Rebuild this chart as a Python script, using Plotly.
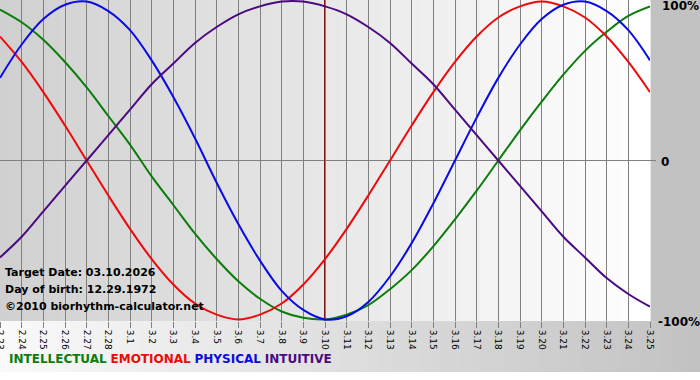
import plotly.graph_objects as go

# ---- data ----
dates = ["2.23", "2.24", "2.25", "2.26", "2.27", "2.28", "3.1", "3.2", "3.3", "3.4",
         "3.5", "3.6", "3.7", "3.8", "3.9", "3.10", "3.11", "3.12", "3.13", "3.14",
         "3.15", "3.16", "3.17", "3.18", "3.19", "3.20", "3.21", "3.22", "3.23", "3.24", "3.25"]

physical = [0.52, 0.73, 0.89, 0.98, 1.00, 0.94, 0.82, 0.63, 0.40, 0.14, -0.14, -0.40, -0.63,
            -0.82, -0.94, -1.00, -0.98, -0.89, -0.73, -0.52, -0.27, 0.00, 0.27, 0.52, 0.73,
            0.89, 0.98, 1.00, 0.94, 0.82, 0.63]
emotional = [0.78, 0.62, 0.43, 0.22, 0.00, -0.22, -0.43, -0.62, -0.78, -0.90, -0.97, -1.00,
             -0.97, -0.90, -0.78, -0.62, -0.43, -0.22, 0.00, 0.22, 0.43, 0.62, 0.78, 0.90,
             0.97, 1.00, 0.97, 0.90, 0.78, 0.62, 0.43]
intellectual = [0.95, 0.87, 0.76, 0.62, 0.46, 0.28, 0.10, -0.10, -0.28, -0.46, -0.62, -0.76,
                -0.87, -0.95, -0.99, -1.00, -0.97, -0.91, -0.81, -0.69, -0.54, -0.37, -0.19,
                0.00, 0.19, 0.37, 0.54, 0.69, 0.81, 0.91, 0.97]
intuitive = [-0.61, -0.48, -0.32, -0.16, 0.00, 0.16, 0.32, 0.48, 0.61, 0.74, 0.84, 0.92, 0.97,
             1.00, 1.00, 0.97, 0.92, 0.84, 0.74, 0.61, 0.48, 0.32, 0.16, 0.00, -0.16, -0.32,
             -0.48, -0.61, -0.74, -0.84, -0.92]

target_date = "3.10"
target_text = "Target Date: 03.10.2026"
birth_text = "Day of birth: 12.29.1972"
copy_text = "\u00a92010 biorhythm-calculator.net"
y_labels = ["100%", "0", "-100%"]
y_values = [1, 0, -1]

# ---- layout constants ----
W, H = 700, 380
ML, MR, MT, MB = 0, 50, 0, 59
PW, PH = W - ML - MR, H - MT - MB

series = [
    ("INTELLECTUAL", intellectual, "#0a7d0a"),
    ("EMOTIONAL", emotional, "#ee0a0a"),
    ("PHYSICAL", physical, "#0a0ae6"),
    ("INTUITIVE", intuitive, "#4b0a82"),
]

xs = list(range(len(dates)))
fig = go.Figure()
for name, vals, col in series:
    fig.add_trace(go.Scatter(x=xs, y=vals, mode="lines", name=name,
                             line=dict(color=col, width=2, shape="spline", smoothing=1.0),
                             hoverinfo="skip"))

shapes = []


def gray(v):
    v = int(round(v))
    return f"rgb({v},{v},{v})"


# plot-area horizontal gradient (dark grey left -> white right)
n = 65
for i in range(n):
    x0 = i / n
    x1 = (i + 1) / n
    v = 208 + (255 - 208) * (i + 0.5) / n
    shapes.append(dict(type="rect", xref="paper", yref="paper", x0=x0, x1=x1 + 0.001,
                       y0=0, y1=1, fillcolor=gray(v), line=dict(width=0), layer="below"))
# bottom strip gradient (white left -> grey right)
ybot = -(372 - 321) / PH
n2 = 70
for i in range(n2):
    x0 = (i * 10) / PW
    x1 = ((i + 1) * 10) / PW
    v = 250 - (250 - 194) * (i + 0.5) / n2
    shapes.append(dict(type="rect", xref="paper", yref="paper", x0=x0, x1=x1 + 0.001,
                       y0=ybot, y1=0, fillcolor=gray(v), line=dict(width=0), layer="below"))
shapes.append(dict(type="rect", xref="paper", yref="paper", x0=0, x1=W / PW,
                   y0=-(H - 321) / PH - 0.01, y1=ybot, fillcolor="white",
                   line=dict(width=0), layer="below"))
# zero line extension to right
shapes.append(dict(type="line", xref="paper", yref="y", x0=0, x1=(PW + 6) / PW, y0=0, y1=0,
                   line=dict(color="#808080", width=1), layer="below"))
# target date line
shapes.append(dict(type="line", xref="x", yref="paper", x0=dates.index(target_date),
                   x1=dates.index(target_date), y0=0, y1=1,
                   line=dict(color="#7e1616", width=2), layer="below"))

annotations = []
for txt, yc in [(target_text, 272), (birth_text, 289), (copy_text, 306)]:
    annotations.append(dict(text=f"<b>{txt}</b>", xref="paper", yref="paper",
                            x=3 / PW, y=(321 - yc) / PH, xanchor="left", yanchor="middle",
                            showarrow=False, font=dict(family="DejaVu Sans", size=11, color="black")))
for txt, yv, yc, xl in zip(y_labels, y_values, [6, 162, 322], [660, 659, 656]):
    annotations.append(dict(text=f"<b>{txt}</b>", xref="paper", yref="paper",
                            x=xl / PW, y=(321 - yc) / PH, xanchor="left", yanchor="middle",
                            showarrow=False, font=dict(family="DejaVu Sans", size=12, color="black")))
legend_html = "&nbsp;".join(f"<span style='color:{c}'><b>{nm}</b></span>" for nm, _, c in series)
annotations.append(dict(text=legend_html, xref="paper", yref="paper", x=7 / PW,
                        y=(321 - 359) / PH, xanchor="left", yanchor="middle", showarrow=False,
                        font=dict(family="DejaVu Sans", size=12)))

fig.update_layout(
    width=W, height=H,
    margin=dict(l=ML, r=MR, t=MT, b=MB, pad=0, autoexpand=False),
    paper_bgcolor="#c2c2c2",
    plot_bgcolor="rgba(0,0,0,0)",
    showlegend=False,
    shapes=shapes,
    annotations=annotations,
    xaxis=dict(range=[0, len(dates) - 1], tickmode="array", tickvals=xs, ticktext=dates,
               tickangle=90, showgrid=True, gridcolor="#808080", gridwidth=1,
               ticks="outside", ticklen=6, tickcolor="#808080", zeroline=False,
               showline=False, tickfont=dict(family="DejaVu Sans", size=9, color="black"),
               ticklabeloverflow="allow",
               fixedrange=True, automargin=False),
    yaxis=dict(range=[-1.01, 1.01], showgrid=False, zeroline=False, showticklabels=False,
               ticks="", showline=False, fixedrange=True, automargin=False),
)

fig.write_html("out.html", config={"displayModeBar": False},
               post_script="document.body.style.margin='0';document.body.style.overflow='hidden';")
